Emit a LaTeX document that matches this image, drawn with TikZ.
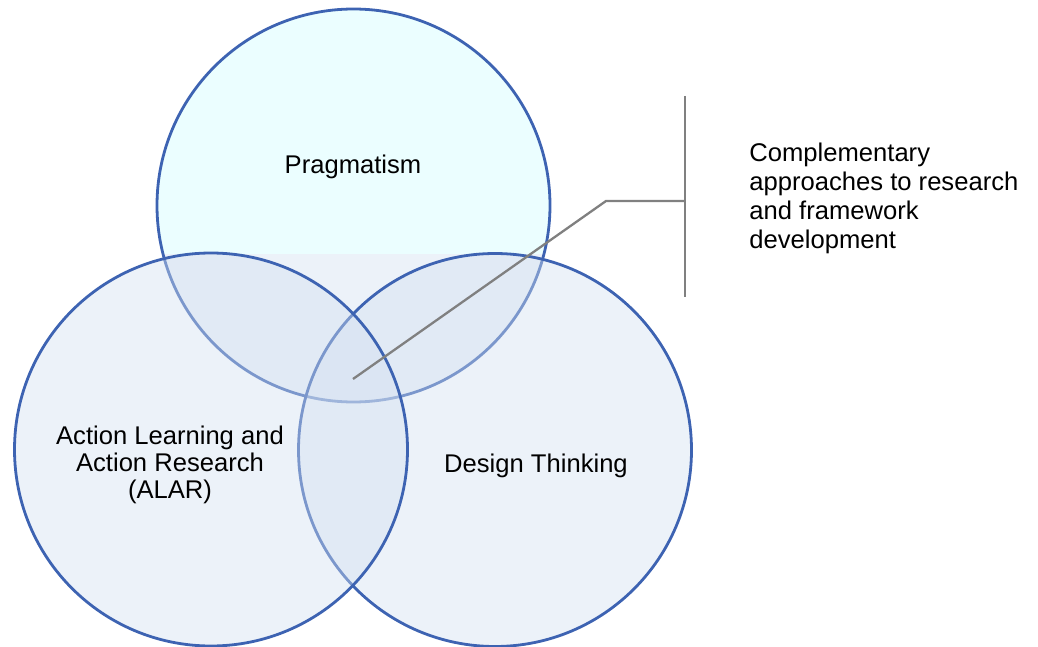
\documentclass[tikz,border=0pt]{standalone}
\usepackage{fontspec}
\setmainfont{Liberation Sans}
\usepackage{tikz}

\definecolor{vennblue}{RGB}{61,99,178}
\definecolor{venncyan}{RGB}{235,254,255}
\definecolor{venntint}{RGB}{210,223,240}
\definecolor{calloutgray}{RGB}{128,128,128}

\begin{document}
\begin{tikzpicture}[x=0.5pt, y=-0.5pt,
    vennline/.style={draw=vennblue, line width=1.4pt},
    vennfill/.style={fill=venntint, fill opacity=0.42},
    callout/.style={draw=calloutgray, line width=1.15pt},
    lbl/.style={inner sep=0pt, align=center, font=\fontsize{12.8}{13.5}\selectfont}]
    \useasboundingbox (0,0) rectangle (1038,647);
    \coordinate (P) at (353.5,205.5);
    \coordinate (A) at (211,449.5);
    \coordinate (D) at (495,450);
    % cerchio in alto: ciano sopra, tinta sotto
    \begin{scope}
        \clip (P) circle[radius=196.5];
        \fill[venncyan] (0,0) rectangle (1038,254);
        \fill[vennfill] (0,254) rectangle (1038,647);
    \end{scope}
    \draw[vennline] (P) circle[radius=196.5];
    \draw[vennfill, vennline] (D) circle[radius=196.5];
    \draw[vennfill, vennline] (A) circle[radius=196.5];
    \node[lbl, anchor=base] (prag) at (353,173) {Pragmatism};
    \node[lbl, anchor=base] (alar) at (170,498) {Action Learning and\\Action Research\\(ALAR)};
    \node[lbl, anchor=base] (design) at (536,472) {Design Thinking};
    % richiamo
    \coordinate (tip) at (353,379);
    \coordinate (knee) at (606,201);
    \coordinate (bartop) at (685,96);
    \coordinate (barbot) at (685,297);
    \draw[callout] (tip) -- (knee) -- (knee -| bartop);
    \draw[callout, line width=1.35pt] (bartop) -- (barbot);
    \node[lbl, anchor=base west, align=left, font=\fontsize{12.8}{14.5}\selectfont] (note) at (749,248)
        {Complementary\\approaches to research\\and framework\\development};
\end{tikzpicture}
\end{document}
